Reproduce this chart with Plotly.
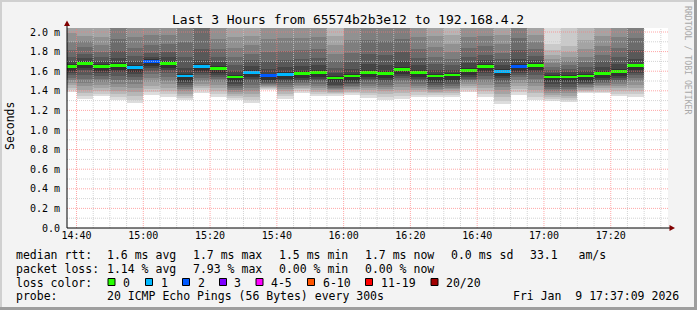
import plotly.graph_objects as go
import pandas as pd

# ---------------- data (ms) ----------------
BAR_START = pd.date_range("2026-01-09 14:35", periods=35, freq="5min")
MEDIAN = [1.65, 1.68, 1.65, 1.66, 1.64, 1.70, 1.68, 1.55, 1.65, 1.63,
          1.54, 1.59, 1.555, 1.57, 1.58, 1.59, 1.53, 1.55, 1.59, 1.58,
          1.62, 1.59, 1.55, 1.56, 1.61, 1.65, 1.60, 1.65, 1.66, 1.54,
          1.54, 1.55, 1.58, 1.60, 1.655]
LOSS = [0, 0, 0, 0, 1, 2, 0, 1, 1, 0,
        0, 1, 2, 1, 0, 0, 0, 0, 0, 0,
        0, 0, 0, 0, 0, 0, 1, 2, 0, 0,
        0, 0, 0, 0, 0]
PINGS = [
    [1.39, 1.41, 1.43, 1.46, 1.48, 1.51, 1.53, 1.56, 1.58, 1.605, 1.67, 1.70, 1.75, 1.82, 1.90, 1.99, 2.10, 2.25, 2.45, 2.80],
    [1.32, 1.35, 1.38, 1.41, 1.45, 1.48, 1.52, 1.56, 1.61, 1.635, 1.70, 1.73, 1.78, 1.85, 1.91, 1.96, 2.10, 2.20, 2.40, 2.70],
    [1.35, 1.37, 1.40, 1.43, 1.46, 1.49, 1.52, 1.55, 1.58, 1.605, 1.67, 1.70, 1.74, 1.80, 1.87, 1.95, 2.08, 2.20, 2.35, 2.60],
    [1.31, 1.34, 1.37, 1.40, 1.44, 1.47, 1.51, 1.55, 1.59, 1.615, 1.68, 1.73, 1.81, 1.93, 2.06, 2.12, 2.20, 2.35, 2.55, 2.90],
    [1.28, 1.31, 1.35, 1.39, 1.43, 1.47, 1.51, 1.54, 1.57, 1.595, 1.66, 1.70, 1.76, 1.84, 1.95, 2.08, 2.15, 2.30, 2.50, 2.85],
    [1.36, 1.39, 1.42, 1.45, 1.49, 1.53, 1.57, 1.60, 1.63, 1.655, 1.72, 1.75, 1.79, 1.87, 1.97, 2.08, 2.15, 2.30, 2.50, 2.80],
    [1.34, 1.37, 1.40, 1.43, 1.47, 1.50, 1.54, 1.58, 1.61, 1.635, 1.70, 1.74, 1.80, 1.88, 1.97, 2.08, 2.16, 2.30, 2.50, 2.80],
    [1.31, 1.33, 1.35, 1.37, 1.40, 1.42, 1.44, 1.46, 1.48, 1.505, 1.57, 1.63, 1.75, 1.90, 2.06, 2.12, 2.20, 2.35, 2.55, 2.90],
    [1.38, 1.41, 1.43, 1.45, 1.47, 1.50, 1.53, 1.56, 1.58, 1.605, 1.67, 1.71, 1.83, 2.06, 2.10, 2.16, 2.25, 2.40, 2.60, 3.00],
    [1.34, 1.37, 1.40, 1.43, 1.46, 1.49, 1.52, 1.54, 1.56, 1.585, 1.65, 1.69, 1.75, 1.83, 1.93, 2.08, 2.16, 2.30, 2.50, 2.80],
    [1.31, 1.33, 1.35, 1.37, 1.39, 1.41, 1.43, 1.45, 1.47, 1.495, 1.56, 1.60, 1.66, 1.74, 1.84, 1.95, 2.10, 2.20, 2.40, 2.70],
    [1.28, 1.31, 1.34, 1.37, 1.40, 1.43, 1.46, 1.49, 1.52, 1.545, 1.61, 1.65, 1.71, 1.78, 1.87, 1.96, 2.10, 2.20, 2.40, 2.70],
    [1.41, 1.42, 1.43, 1.44, 1.45, 1.46, 1.47, 1.48, 1.49, 1.51, 1.575, 1.62, 1.70, 1.80, 1.93, 2.08, 2.15, 2.30, 2.50, 2.80],
    [1.32, 1.35, 1.37, 1.40, 1.42, 1.44, 1.46, 1.48, 1.50, 1.525, 1.59, 1.64, 1.71, 1.81, 1.94, 2.08, 2.15, 2.30, 2.50, 2.80],
    [1.38, 1.40, 1.42, 1.43, 1.45, 1.46, 1.48, 1.49, 1.51, 1.535, 1.60, 1.65, 1.72, 1.82, 1.94, 2.08, 2.15, 2.30, 2.50, 2.80],
    [1.35, 1.37, 1.39, 1.41, 1.43, 1.45, 1.47, 1.50, 1.52, 1.545, 1.61, 1.66, 1.73, 1.83, 1.95, 2.08, 2.15, 2.30, 2.50, 2.80],
    [1.35, 1.37, 1.38, 1.39, 1.41, 1.42, 1.43, 1.45, 1.46, 1.485, 1.55, 1.58, 1.63, 1.70, 1.78, 1.87, 1.96, 2.10, 2.30, 2.60],
    [1.36, 1.38, 1.39, 1.41, 1.42, 1.44, 1.45, 1.47, 1.48, 1.505, 1.57, 1.62, 1.69, 1.79, 1.92, 2.08, 2.15, 2.30, 2.50, 2.80],
    [1.33, 1.36, 1.38, 1.41, 1.43, 1.45, 1.47, 1.50, 1.52, 1.545, 1.61, 1.67, 1.78, 1.92, 2.06, 2.12, 2.20, 2.35, 2.55, 2.90],
    [1.31, 1.34, 1.37, 1.40, 1.42, 1.44, 1.46, 1.49, 1.51, 1.535, 1.60, 1.66, 1.77, 1.91, 2.06, 2.12, 2.20, 2.35, 2.55, 2.90],
    [1.32, 1.35, 1.38, 1.41, 1.44, 1.47, 1.50, 1.53, 1.55, 1.575, 1.64, 1.70, 1.80, 1.93, 2.06, 2.12, 2.20, 2.35, 2.55, 2.90],
    [1.34, 1.36, 1.39, 1.41, 1.43, 1.45, 1.47, 1.50, 1.52, 1.545, 1.61, 1.66, 1.73, 1.83, 1.95, 2.08, 2.15, 2.30, 2.50, 2.80],
    [1.34, 1.36, 1.38, 1.39, 1.41, 1.42, 1.44, 1.46, 1.48, 1.505, 1.57, 1.61, 1.67, 1.75, 1.85, 1.96, 2.10, 2.20, 2.40, 2.70],
    [1.34, 1.36, 1.38, 1.40, 1.42, 1.43, 1.45, 1.47, 1.49, 1.515, 1.58, 1.61, 1.66, 1.72, 1.80, 1.88, 1.97, 2.10, 2.30, 2.60],
    [1.39, 1.41, 1.43, 1.45, 1.47, 1.49, 1.51, 1.52, 1.54, 1.565, 1.63, 1.68, 1.75, 1.84, 1.95, 2.08, 2.15, 2.30, 2.50, 2.80],
    [1.34, 1.37, 1.40, 1.43, 1.46, 1.49, 1.52, 1.55, 1.58, 1.605, 1.67, 1.71, 1.77, 1.86, 1.96, 2.08, 2.15, 2.30, 2.50, 2.80],
    [1.27, 1.30, 1.34, 1.37, 1.41, 1.44, 1.47, 1.50, 1.53, 1.555, 1.62, 1.66, 1.72, 1.79, 1.88, 1.97, 2.10, 2.20, 2.40, 2.70],
    [1.36, 1.39, 1.42, 1.45, 1.48, 1.51, 1.54, 1.56, 1.58, 1.605, 1.67, 1.72, 1.82, 1.94, 2.06, 2.12, 2.20, 2.35, 2.55, 2.90],
    [1.31, 1.34, 1.38, 1.41, 1.45, 1.48, 1.52, 1.56, 1.59, 1.615, 1.68, 1.71, 1.76, 1.83, 1.90, 1.97, 2.10, 2.20, 2.40, 2.70],
    [1.30, 1.32, 1.34, 1.36, 1.38, 1.40, 1.42, 1.44, 1.47, 1.495, 1.56, 1.58, 1.61, 1.64, 1.68, 1.72, 1.77, 1.82, 1.88, 2.20],
    [1.285, 1.31, 1.33, 1.35, 1.38, 1.40, 1.42, 1.44, 1.47, 1.495, 1.56, 1.59, 1.62, 1.66, 1.70, 1.75, 1.80, 1.86, 2.15, 2.40],
    [1.377, 1.39, 1.40, 1.41, 1.43, 1.44, 1.46, 1.47, 1.48, 1.505, 1.57, 1.60, 1.64, 1.69, 1.75, 1.83, 1.92, 2.10, 2.30, 2.60],
    [1.377, 1.39, 1.41, 1.43, 1.45, 1.46, 1.48, 1.49, 1.51, 1.535, 1.60, 1.64, 1.70, 1.77, 1.86, 1.96, 2.10, 2.20, 2.40, 2.70],
    [1.35, 1.37, 1.40, 1.43, 1.45, 1.47, 1.49, 1.51, 1.53, 1.555, 1.62, 1.67, 1.74, 1.84, 1.95, 2.08, 2.15, 2.30, 2.50, 2.80],
    [1.34, 1.37, 1.40, 1.43, 1.46, 1.50, 1.53, 1.56, 1.58, 1.61, 1.675, 1.72, 1.82, 1.94, 2.06, 2.12, 2.20, 2.35, 2.55, 2.90],
]
Y_TICKS = [0.0, 0.2, 0.4, 0.6, 0.8, 1.0, 1.2, 1.4, 1.6, 1.8, 2.0]
Y_TICKTEXT = ["0.0", "0.2 m", "0.4 m", "0.6 m", "0.8 m", "1.0 m", "1.2 m", "1.4 m", "1.6 m", "1.8 m", "2.0 m"]
LOSS_LABELS = ["0", "1", "2", "3", "4-5", "6-10", "11-19", "20/20"]
LOSS_COLORS = ["#26ff00", "#00b8ff", "#0059ff", "#7e00ff", "#ff00ff", "#ff5500", "#ff0000", "#a10000"]
TITLE = "Last 3 Hours from 65574b2b3e12 to 192.168.4.2"
X_START, X_END = "2026-01-09 14:37:09", "2026-01-09 17:37:09"

# ---------------- layout geometry ----------------
FW, FH = 697, 310
L, R, T, B = 67, 668, 28, 228
W, H = R - L, B - T
def px(x): return (x - L) / W
def py(y): return (B - y) / H

FONT = "DejaVu Sans Mono"
STEP_MS = 300000

fig = go.Figure()

# smoke layers (outer -> inner)
N = 20
for i in range(N // 2):
    g = int(190 / (N / 2) * (N / 2 - (i + 1))) + 50
    col = "#%02x%02x%02x" % (g, g, g)
    base = [p[i] for p in PINGS]
    height = [p[N - 1 - i] - p[i] for p in PINGS]
    fig.add_trace(go.Bar(x=BAR_START, y=height, base=base, width=STEP_MS, offset=0,
                         marker=dict(color=col, line=dict(width=0)),
                         showlegend=False, hoverinfo="skip"))

# median markers coloured by loss
sw = 0.014
fig.add_trace(go.Bar(x=BAR_START, y=[2 * sw] * len(MEDIAN), base=[m - sw for m in MEDIAN],
                     width=STEP_MS, offset=0,
                     marker=dict(color=[LOSS_COLORS[l] for l in LOSS], line=dict(width=0)),
                     showlegend=False, hoverinfo="skip"))

shapes = []
# grid (drawn over the smoke like rrdtool)
MINOR = "rgba(200,200,200,0.8)"
MAJOR = "rgba(255,120,120,0.65)"
for t in pd.date_range("2026-01-09 14:40", "2026-01-09 17:35", freq="5min"):
    shapes.append(dict(type="line", xref="x", yref="paper", x0=t, x1=t, y0=0, y1=1, layer="above",
                       line=dict(color=MAJOR if t.minute % 20 == 0 else MINOR, width=1, dash="1px,1px")))
for k in range(1, 21):
    v = k * 0.1
    shapes.append(dict(type="line", xref="paper", yref="y", x0=0, x1=1, y0=v, y1=v, layer="above",
                       line=dict(color=MAJOR if k % 2 == 0 else MINOR, width=1, dash="1px,1px")))

# axes with arrows
shapes.append(dict(type="line", xref="paper", yref="paper", x0=px(67), x1=px(670), y0=py(228), y1=py(228),
                   line=dict(color="#000", width=1), layer="above"))
shapes.append(dict(type="line", xref="paper", yref="paper", x0=px(67), x1=px(67), y0=py(228), y1=py(24),
                   line=dict(color="#000", width=1), layer="above"))
def path(pts):
    return "M " + " L ".join("%f,%f" % (px(a), py(b)) for a, b in pts) + " Z"
shapes.append(dict(type="path", xref="paper", yref="paper", path=path([(669.5, 225), (675, 228), (669.5, 231)]),
                   fillcolor="#800000", line=dict(width=0), layer="above"))
shapes.append(dict(type="path", xref="paper", yref="paper", path=path([(64, 26), (67, 20.5), (70, 26)]),
                   fillcolor="#800000", line=dict(width=0), layer="above"))

# frame borders
def rect(x0, y0, x1, y1, color, line=None):
    d = dict(type="rect", xref="paper", yref="paper", x0=px(x0), x1=px(x1), y0=py(y0), y1=py(y1),
             fillcolor=color, layer="above", line=dict(width=0))
    if line:
        d["line"] = dict(color=line, width=1)
    return d
shapes.append(rect(0, 0, FW, 2, "#d0d0d0"))
shapes.append(rect(0, 0, 2, FH, "#d0d0d0"))
shapes.append(rect(694, 0, FW, FH, "#9e9e9e"))
shapes.append(rect(0, 307, FW, FH, "#9e9e9e"))

annotations = []
def text(x, y, s, size=11.5, color="#000", anchor="left", angle=0):
    annotations.append(dict(x=px(x), y=py(y), xref="paper", yref="paper", text=s, showarrow=False,
                            xanchor=anchor, yanchor="middle", textangle=angle, borderpad=0, borderwidth=0,
                            font=dict(family=FONT, size=size, color=color)))

text(348, 19, TITLE, size=13, anchor="center")
text(10, 126, "Seconds", size=11.5, anchor="center", angle=-90)
text(688, 60, "RRDTOOL / TOBI OETIKER", size=8.2, color="#a8a8a8", anchor="center", angle=90)

rows = [255, 268.5, 282.5, 296]
text(16, rows[0], "median rtt:")
for x, s in [(107, "1.6 ms avg"), (193, "1.7 ms max"), (279, "1.5 ms min"), (365, "1.7 ms now"),
             (451, "0.0 ms sd"), (530, "33.1   am/s")]:
    text(x, rows[0], s)
text(16, rows[1], "packet loss:")
for x, s in [(107, "1.14 % avg"), (193, "7.93 % max"), (279, "0.00 % min"), (365, "0.00 % now")]:
    text(x, rows[1], s)
text(16, rows[2], "loss color:")
box_x = [108, 145.5, 182.5, 219.5, 256, 307.5, 365.5, 431]
for bx, lab, col in zip(box_x, LOSS_LABELS, LOSS_COLORS):
    shapes.append(rect(bx, 278.5, bx + 7, 285.5, col, line="#000"))
    text(bx + 15, rows[2], lab)
text(16, rows[3], "probe:")
text(107, rows[3], "20 ICMP Echo Pings (56 Bytes) every 300s")
text(513, rows[3], "Fri Jan  9 17:37:09 2026")

fig.update_layout(
    width=FW, height=FH, margin=dict(l=L, r=FW - R, t=T, b=FH - B, pad=0),
    paper_bgcolor="#f3f3f3", plot_bgcolor="#ffffff",
    barmode="overlay", bargap=0, showlegend=False,
    shapes=shapes, annotations=annotations,
    font=dict(family=FONT, size=10, color="#000"),
    xaxis=dict(type="date", range=[X_START, X_END], showgrid=False, zeroline=False, showline=False,
               tick0="2026-01-09 14:40", dtick=20 * 60 * 1000, tickformat="%H:%M", ticks="",
               tickfont=dict(family=FONT, size=10, color="#000"), fixedrange=True),
    yaxis=dict(range=[0, H / 98.0], showgrid=False, zeroline=False, showline=False,
               tickvals=Y_TICKS, ticktext=Y_TICKTEXT, ticks="", ticklabelstandoff=6,
               tickfont=dict(family=FONT, size=10, color="#000"), fixedrange=True),
)

fig.write_html("out.html")
